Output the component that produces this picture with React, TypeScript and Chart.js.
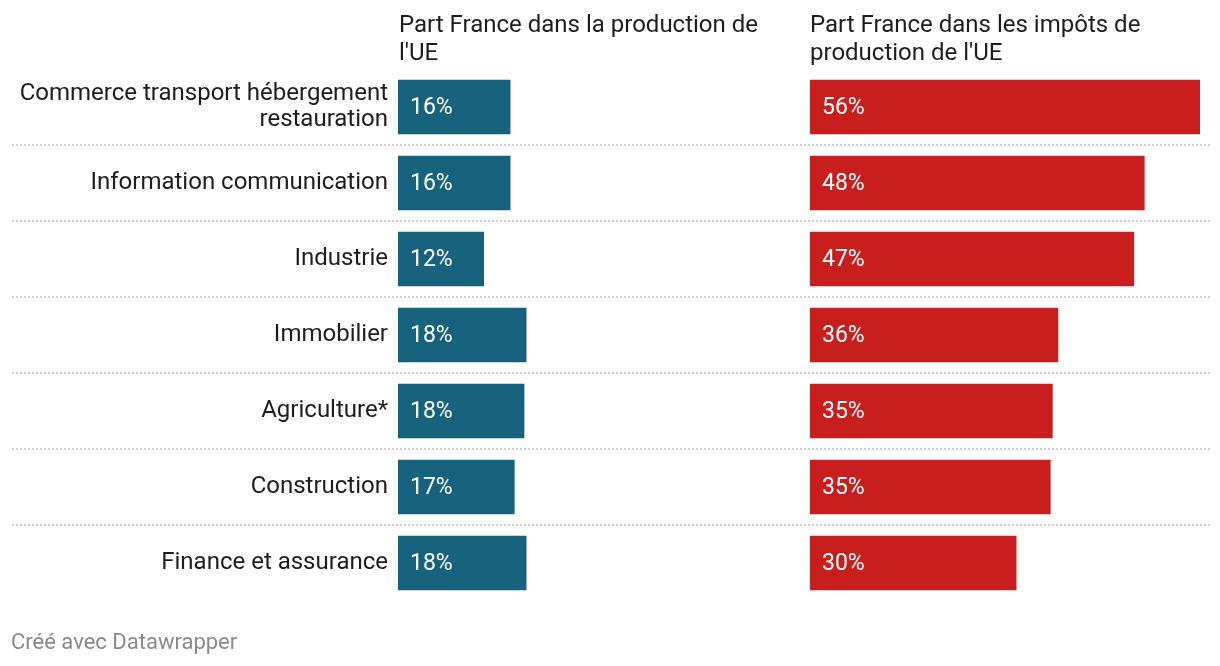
import React, { useEffect, useRef } from "react";
import { Chart, registerables } from "chart.js";

Chart.register(...registerables);

const categories: (string | string[])[] = [
  ["Commerce transport hébergement", "restauration"],
  "Information communication",
  "Industrie",
  "Immobilier",
  "Agriculture*",
  "Construction",
  "Finance et assurance",
];
const productionShare = [16.1, 16.1, 12.3, 18.4, 18.1, 16.7, 18.4];
const taxShare = [56.0, 48.0, 46.5, 35.6, 34.8, 34.5, 29.6];
const productionLabels = ["16%", "16%", "12%", "18%", "18%", "17%", "18%"];
const taxLabels = ["56%", "48%", "47%", "36%", "35%", "35%", "30%"];
const headerLeft = ["Part France dans la production de", "l'UE"];
const headerRight = ["Part France dans les impôts de", "production de l'UE"];
const xMax = 56;

const FONT = "Roboto, 'Noto Sans', sans-serif";

function makePlugins(labels: string[], gridFrom: number, gridTo: number) {
  return [
    {
      id: "rowLines",
      beforeDatasetsDraw(chart: any) {
        const y = chart.scales.y;
        const ctx = chart.ctx;
        ctx.save();
        ctx.strokeStyle = "#cfcfcf";
        ctx.lineWidth = 2;
        ctx.setLineDash([2, 2]);
        const n = chart.data.labels.length;
        for (let i = 0; i < n - 1; i++) {
          const py = Math.round((y.getPixelForValue(i) + y.getPixelForValue(i + 1)) / 2);
          ctx.beginPath();
          ctx.moveTo(gridFrom, py);
          ctx.lineTo(gridTo, py);
          ctx.stroke();
        }
        ctx.restore();
      },
    },
    {
      id: "valueLabels",
      afterDatasetsDraw(chart: any) {
        const meta = chart.getDatasetMeta(0);
        const ctx = chart.ctx;
        ctx.save();
        ctx.fillStyle = "#ffffff";
        ctx.font = `23px ${FONT}`;
        ctx.textAlign = "left";
        ctx.textBaseline = "middle";
        meta.data.forEach((bar: any, i: number) => {
          ctx.fillText(labels[i], bar.base + 12, bar.y + 1);
        });
        ctx.restore();
      },
    },
  ];
}

function BarPanel(props: {
  values: number[];
  labels: string[];
  color: string;
  showCategories: boolean;
  width: number;
  areaLeft: number;
  areaRight: number;
  gridFrom: number;
  gridTo: number;
}) {
  const ref = useRef<HTMLCanvasElement>(null);
  useEffect(() => {
    if (!ref.current) return;
    const chart = new Chart(ref.current, {
      type: "bar",
      data: {
        labels: categories,
        datasets: [
          {
            data: props.values,
            backgroundColor: props.color,
            barThickness: 54,
            borderWidth: 0,
          },
        ],
      },
      options: {
        indexAxis: "y",
        animation: false,
        responsive: false,
        maintainAspectRatio: false,
        layout: {
          padding: {
            top: 69,
            bottom: 65,
            left: props.showCategories ? 0 : props.areaLeft,
            right: props.width - props.areaRight,
          },
        },
        plugins: {
          legend: { display: false },
          tooltip: { enabled: false },
          title: { display: false },
        },
        scales: {
          x: {
            min: 0,
            max: xMax,
            display: false,
          },
          y: {
            display: props.showCategories,
            grid: { display: false, drawTicks: false },
            border: { display: false },
            ticks: {
              padding: 10,
              color: "#1d1d1d",
              font: { family: FONT, size: 24, lineHeight: 1.08 },
            },
            afterFit: (scale: any) => {
              if (props.showCategories) scale.width = props.areaLeft;
            },
          },
        },
      },
      plugins: makePlugins(props.labels, props.gridFrom, props.gridTo) as any,
    });
    return () => chart.destroy();
  }, []);
  return (
    <canvas
      ref={ref}
      width={props.width}
      height={666}
      style={{ width: props.width, height: 666, display: "block" }}
    />
  );
}

export default function App() {
  useEffect(() => {
    document.body.style.margin = "0";
  }, []);
  const headerStyle: React.CSSProperties = {
    position: "absolute",
    top: 10,
    fontFamily: FONT,
    fontSize: 24,
    lineHeight: "28px",
    color: "#1d1d1d",
  };
  return (
    <div style={{ position: "relative", width: 1220, height: 666, background: "#fff", overflow: "hidden" }}>
      <div style={{ position: "absolute", left: 0, top: 0 }}>
        <BarPanel
          values={productionShare}
          labels={productionLabels}
          color="#17627c"
          showCategories={true}
          width={800}
          areaLeft={398}
          areaRight={788}
          gridFrom={12}
          gridTo={800}
        />
      </div>
      <div style={{ position: "absolute", left: 800, top: 0 }}>
        <BarPanel
          values={taxShare}
          labels={taxLabels}
          color="#c81e1e"
          showCategories={false}
          width={420}
          areaLeft={10}
          areaRight={400}
          gridFrom={0}
          gridTo={410}
        />
      </div>
      <div style={{ ...headerStyle, left: 399 }}>
        {headerLeft.map((l, i) => (
          <div key={i}>{l}</div>
        ))}
      </div>
      <div style={{ ...headerStyle, left: 810 }}>
        {headerRight.map((l, i) => (
          <div key={i}>{l}</div>
        ))}
      </div>
      <div
        style={{
          position: "absolute",
          left: 11,
          top: 629,
          fontFamily: FONT,
          fontSize: 22,
          lineHeight: "26px",
          color: "#8a8a8a",
        }}
      >
        Créé avec Datawrapper
      </div>
    </div>
  );
}
